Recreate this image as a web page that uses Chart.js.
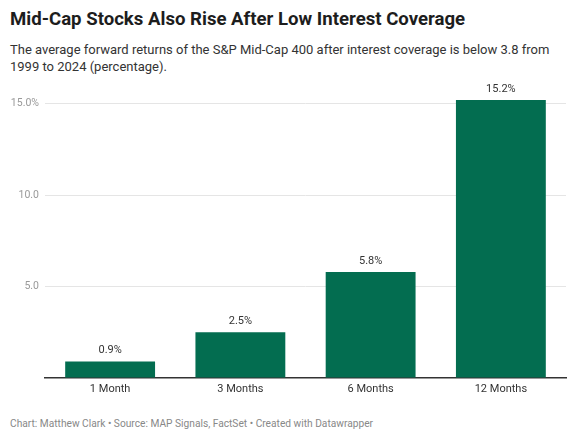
<!DOCTYPE html>
<html>
<head>
<meta charset="utf-8">
<script src="https://cdn.jsdelivr.net/npm/chart.js@4"></script>
<style>
  body { margin: 0; background: #fff; font-family: Roboto, sans-serif; }
  #wrap { position: relative; width: 575px; height: 439px; overflow: hidden; }
  #title { position: absolute; left: 10px; top: 8px; font-size: 18.6px; font-weight: 700; color: #1d1d1d; }
  #subtitle { position: absolute; left: 10px; top: 41px; width: 560px; font-size: 13px; line-height: 17px; color: #333; }
  #footer { position: absolute; left: 10px; top: 418px; font-size: 10.2px; color: #888; }
  #chartBox { position: absolute; left: 0; top: 80px; width: 575px; height: 320px; }
</style>
</head>
<body>
<div id="wrap">
  <div id="title">Mid-Cap Stocks Also Rise After Low Interest Coverage</div>
  <div id="subtitle">The average forward returns of the S&amp;P Mid-Cap 400 after interest coverage is below 3.8 from 1999 to 2024 (percentage).</div>
  <div id="chartBox"><canvas id="chart"></canvas></div>
  <div id="footer">Chart: Matthew Clark • Source: MAP Signals, FactSet • Created with Datawrapper</div>
</div>
<script>
"use strict";
const categories = ["1 Month", "3 Months", "6 Months", "12 Months"];
const returns = [0.9, 2.5, 5.8, 15.2];
const yTicks = [0, 5, 10, 15];

// Draw value labels above each bar
const valueLabels = {
    id: "valueLabels",
    afterDatasetsDraw(chart) {
        const ctx = chart.ctx;
        const meta = chart.getDatasetMeta(0);
        ctx.save();
        ctx.font = "11px Roboto";
        ctx.fillStyle = "#333";
        ctx.textAlign = "center";
        ctx.textBaseline = "middle";
        meta.data.forEach((bar, i) => {
            ctx.fillText(returns[i].toFixed(1) + "%", bar.x, bar.y - 11);
        });
        ctx.restore();
    }
};

new Chart(document.getElementById("chart").getContext("2d"), {
    type: "bar",
    data: {
        labels: categories,
        datasets: [{
            data: returns,
            backgroundColor: "#036d50",
            barPercentage: 0.69,
            categoryPercentage: 1
        }]
    },
    options: {
        responsive: true,
        maintainAspectRatio: false,
        animation: false,
        layout: { padding: { top: 20, right: 9, bottom: 0, left: 0 } },
        plugins: { legend: { display: false }, tooltip: { enabled: false } },
        scales: {
            x: {
                grid: { display: false, drawTicks: false },
                border: { display: true, color: "#333", width: 1.5 },
                ticks: { color: "#333", font: { family: "Roboto", size: 11 }, padding: 5 },
                afterFit: s => { s.height = 22; }
            },
            y: {
                min: 0,
                max: 15.2,
                afterBuildTicks: s => { s.ticks = yTicks.map(v => ({ value: v })); },
                afterFit: s => { s.width = 45; },
                border: { display: false },
                grid: {
                    drawTicks: false,
                    color: c => c.tick && c.tick.value === 0 ? "rgba(0,0,0,0)" : "#e5e5e5"
                },
                ticks: {
                    padding: 6,
                    color: "#999",
                    font: { family: "Roboto", size: 10.5 },
                    callback: v => v === 0 ? "" : (v === 15 ? "15.0%" : v.toFixed(1))
                }
            }
        }
    },
    plugins: [valueLabels]
});
</script>
</body>
</html>
